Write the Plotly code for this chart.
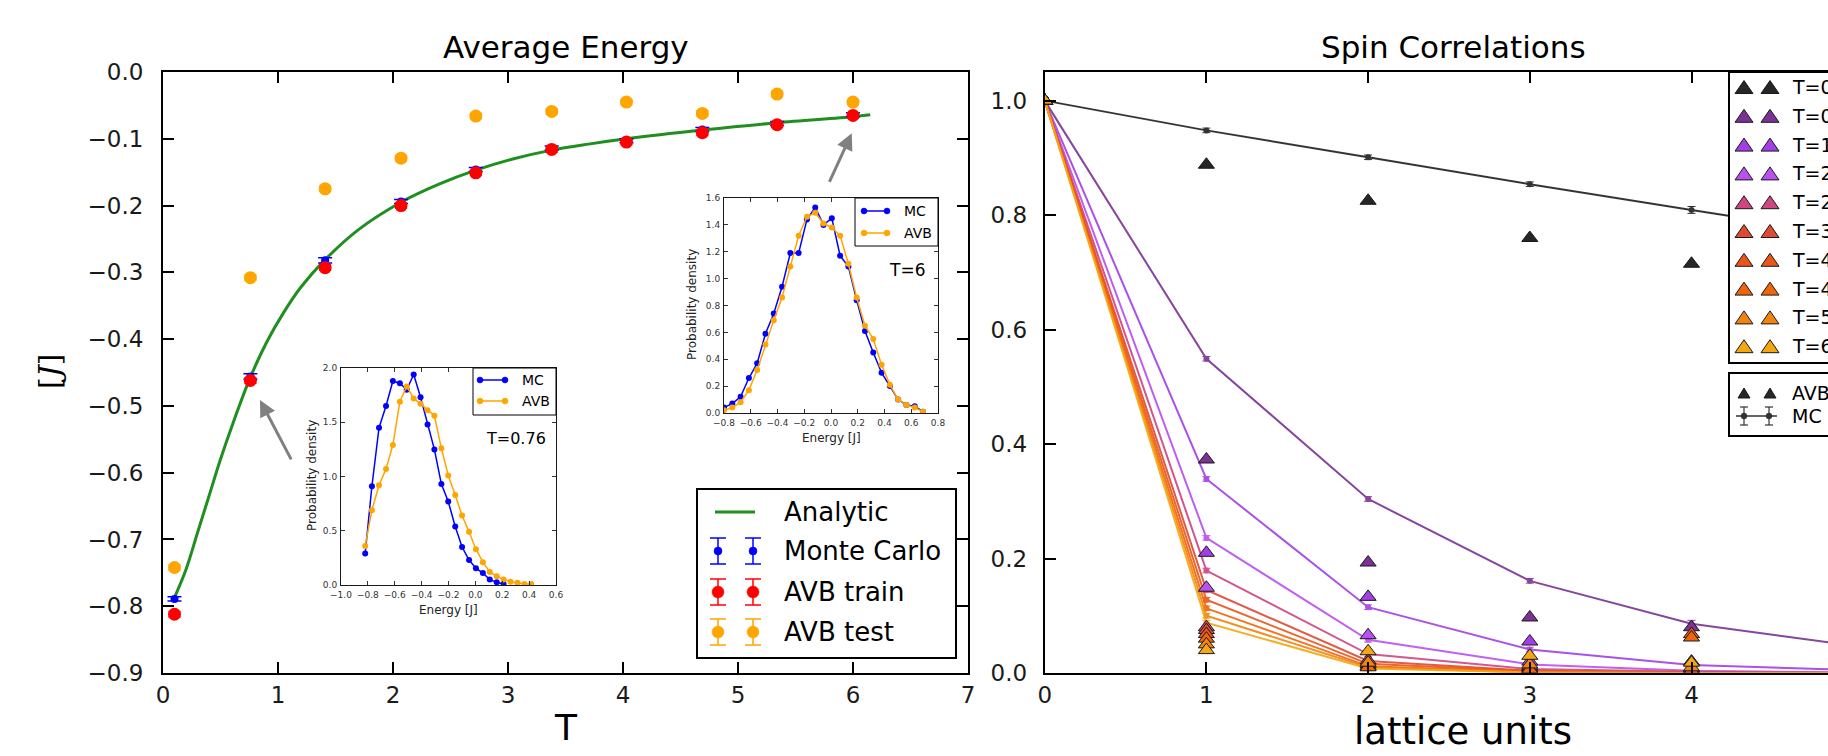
import plotly.graph_objects as go

FONT = "DejaVu Sans"
MINUS = "\u2212"

# ---------------- Average Energy panel ----------------
T_points = [0.10, 0.76, 1.41, 2.07, 2.72, 3.38, 4.03, 4.69, 5.34, 6.00]
E_monte_carlo = [-0.789, -0.456, -0.282, -0.194, -0.146, -0.114, -0.103, -0.086, -0.077, -0.064]
E_monte_carlo_err = [0.003, 0.004, 0.004, 0.003, 0.003, 0.003, 0.003, 0.003, 0.003, 0.003]
E_avb_train = [-0.812, -0.462, -0.293, -0.200, -0.151, -0.116, -0.105, -0.091, -0.079, -0.065]
E_avb_train_err = [0.004, 0.004, 0.004, 0.004, 0.004, 0.004, 0.004, 0.004, 0.004, 0.004]
E_avb_test = [-0.742, -0.308, -0.175, -0.129, -0.066, -0.059, -0.045, -0.062, -0.033, -0.045]
E_avb_test_err = [0.004, 0.004, 0.004, 0.004, 0.004, 0.004, 0.004, 0.004, 0.004, 0.004]

T_analytic = [0.10, 0.20, 0.30, 0.40, 0.50, 0.60, 0.76, 0.90, 1.05, 1.20, 1.41, 1.70,
              2.07, 2.40, 2.72, 3.05, 3.38, 3.70, 4.03, 4.69, 5.34, 6.00, 6.15]
E_analytic = [-0.787, -0.745, -0.690, -0.635, -0.580, -0.530, -0.457, -0.405, -0.360, -0.322,
              -0.281, -0.236, -0.195, -0.168, -0.147, -0.130, -0.117, -0.108, -0.100, -0.087,
              -0.076, -0.067, -0.064]

E_ticks = [0.0, -0.1, -0.2, -0.3, -0.4, -0.5, -0.6, -0.7, -0.8, -0.9]
T_ticks = [0, 1, 2, 3, 4, 5, 6, 7]

# inset T=0.76
inset1_energy = [-0.820, -0.770, -0.717, -0.665, -0.614, -0.562, -0.511, -0.459, -0.408, -0.356,
                 -0.305, -0.253, -0.202, -0.150, -0.099, -0.047, 0.004, 0.056, 0.107, 0.159,
                 0.210, 0.262, 0.313, 0.365, 0.416]
inset1_mc = [0.29, 0.91, 1.45, 1.65, 1.88, 1.86, 1.80, 1.94, 1.73, 1.48, 1.25, 0.93, 0.77, 0.54,
             0.35, 0.23, 0.155, 0.11, 0.05, 0.025, 0.01]
inset1_avb = [0.36, 0.69, 0.92, 1.07, 1.29, 1.69, 1.83, 1.72, 1.67, 1.61, 1.56, 1.26, 1.01, 0.83,
              0.64, 0.49, 0.33, 0.21, 0.12, 0.08, 0.05, 0.03, 0.02, 0.01, 0.01]
inset1_xticks = [-1.0, -0.8, -0.6, -0.4, -0.2, 0.0, 0.2, 0.4, 0.6]
inset1_yticks = [0.0, 0.5, 1.0, 1.5, 2.0]

# inset T=6
inset2_energy = [-0.800, -0.738, -0.676, -0.614, -0.552, -0.490, -0.428, -0.366, -0.304, -0.242,
                 -0.180, -0.118, -0.056, 0.006, 0.068, 0.130, 0.192, 0.254, 0.316, 0.378,
                 0.440, 0.502, 0.564, 0.626, 0.688]
inset2_mc = [0.04, 0.07, 0.12, 0.26, 0.37, 0.59, 0.74, 0.94, 1.19, 1.19, 1.44, 1.53, 1.40, 1.45,
             1.17, 1.09, 0.84, 0.61, 0.45, 0.30, 0.20, 0.10, 0.06, 0.05, 0.01]
inset2_avb = [0.02, 0.04, 0.08, 0.17, 0.32, 0.51, 0.69, 0.86, 1.09, 1.32, 1.46, 1.49, 1.41, 1.38,
              1.32, 1.11, 0.86, 0.65, 0.55, 0.36, 0.21, 0.10, 0.06, 0.04, 0.01]
inset2_xticks = [-0.8, -0.6, -0.4, -0.2, 0.0, 0.2, 0.4, 0.6, 0.8]
inset2_yticks = [0.0, 0.2, 0.4, 0.6, 0.8, 1.0, 1.2, 1.4, 1.6]

# ---------------- Spin Correlations panel ----------------
lattice_units = [0, 1, 2, 3, 4, 5]
lattice_ticks = [0, 1, 2, 3, 4]
corr_ticks = [0.0, 0.2, 0.4, 0.6, 0.8, 1.0]
temperature_labels = ["T=0.10", "T=0.76", "T=1.41", "T=2.07", "T=2.72",
                      "T=3.38", "T=4.03", "T=4.69", "T=5.34", "T=6.00"]
temperature_colors = ["#262626", "#7b3294", "#a23fe6", "#bb4ff0", "#cf4682",
                      "#de4a34", "#eb5519", "#ef650a", "#f2840e", "#f5a613"]

mc_T010 = [1.0, 0.948, 0.901, 0.854, 0.809, 0.765]
mc_T076 = [1.0, 0.549, 0.304, 0.161, 0.086, 0.048]
mc_T141 = [1.0, 0.339, 0.115, 0.041, 0.014, 0.005]
mc_T207 = [1.0, 0.236, 0.058, 0.015, 0.004, 0.001]
mc_T272 = [1.0, 0.179, 0.033, 0.007, 0.002, 0.000]
mc_T338 = [1.0, 0.145, 0.021, 0.004, 0.001, 0.000]
mc_T403 = [1.0, 0.128, 0.016, 0.003, 0.000, 0.000]
mc_T469 = [1.0, 0.113, 0.012, 0.002, 0.000, 0.000]
mc_T534 = [1.0, 0.100, 0.010, 0.001, 0.000, 0.000]
mc_T600 = [1.0, 0.088, 0.008, 0.001, 0.000, 0.000]
mc_err = [0.000, 0.004, 0.004, 0.004, 0.006, 0.006]

avb_T010 = [1.0, 0.888, 0.825, 0.760, 0.715, 0.670]
avb_T076 = [1.0, 0.373, 0.193, 0.097, 0.080, 0.060]
avb_T141 = [1.0, 0.210, 0.133, 0.055, 0.020, 0.010]
avb_T207 = [1.0, 0.149, 0.066, 0.020, 0.008, 0.005]
avb_T272 = [1.0, 0.080, 0.022, 0.010, 0.005, 0.003]
avb_T338 = [1.0, 0.075, 0.015, 0.008, 0.004, 0.002]
avb_T403 = [1.0, 0.068, 0.012, 0.012, 0.068, 0.010]
avb_T469 = [1.0, 0.060, 0.010, 0.006, 0.062, 0.010]
avb_T534 = [1.0, 0.050, 0.018, 0.015, 0.010, 0.005]
avb_T600 = [1.0, 0.040, 0.038, 0.030, 0.018, 0.005]

mc_series = [mc_T010, mc_T076, mc_T141, mc_T207, mc_T272, mc_T338, mc_T403, mc_T469, mc_T534, mc_T600]
avb_series = [avb_T010, avb_T076, avb_T141, avb_T207, avb_T272, avb_T338, avb_T403, avb_T469, avb_T534, avb_T600]


def fmt1(v):
    s = f"{abs(v):.1f}"
    return (MINUS + s) if v < 0 else s


# ---------------- layout geometry (pixels) ----------------
W, H = 1828, 756
PL, PR, PT, PB = 163, 0, 72, 83
PW = W - PL - PR
PH = H - PT - PB


def fx(px):
    return (px - PL) / PW


def fy(py):
    return (PT + PH - py) / PH


fig = go.Figure()

# ----- left panel traces -----
fig.add_trace(go.Scatter(x=T_analytic, y=E_analytic, mode="lines",
                         line=dict(color="#1f8f1f", width=3, shape="spline"),
                         xaxis="x", yaxis="y"))
fig.add_trace(go.Scatter(x=T_points, y=E_monte_carlo, mode="markers",
                         marker=dict(color="#0000ff", size=8),
                         error_y=dict(type="data", array=E_monte_carlo_err, color="#0000ff",
                                      thickness=1.5, width=7),
                         xaxis="x", yaxis="y"))
fig.add_trace(go.Scatter(x=T_points, y=E_avb_train, mode="markers",
                         marker=dict(color="#ff0000", size=13),
                         error_y=dict(type="data", array=E_avb_train_err, color="#ff0000",
                                      thickness=1.5, width=6),
                         xaxis="x", yaxis="y"))
fig.add_trace(go.Scatter(x=T_points, y=E_avb_test, mode="markers",
                         marker=dict(color="#ffa500", size=13),
                         error_y=dict(type="data", array=E_avb_test_err, color="#ffa500",
                                      thickness=1.5, width=6),
                         xaxis="x", yaxis="y"))

# ----- insets -----
fig.add_trace(go.Scatter(x=inset1_energy[:len(inset1_mc)], y=inset1_mc, mode="lines+markers",
                         line=dict(color="#0000ff", width=1.5), marker=dict(size=6, color="#0000ff"),
                         xaxis="x3", yaxis="y3"))
fig.add_trace(go.Scatter(x=inset1_energy[:len(inset1_avb)], y=inset1_avb, mode="lines+markers",
                         line=dict(color="#ffa500", width=1.5), marker=dict(size=6, color="#ffa500"),
                         xaxis="x3", yaxis="y3"))
fig.add_trace(go.Scatter(x=inset2_energy, y=inset2_mc, mode="lines+markers",
                         line=dict(color="#0000ff", width=1.5), marker=dict(size=6, color="#0000ff"),
                         xaxis="x4", yaxis="y4"))
fig.add_trace(go.Scatter(x=inset2_energy, y=inset2_avb, mode="lines+markers",
                         line=dict(color="#ffa500", width=1.5), marker=dict(size=6, color="#ffa500"),
                         xaxis="x4", yaxis="y4"))

# ----- right panel traces -----
for vals, col in zip(mc_series, temperature_colors):
    fig.add_trace(go.Scatter(x=lattice_units, y=vals, mode="lines+markers",
                             line=dict(color=col, width=2), opacity=0.9,
                             marker=dict(size=6, color=col),
                             error_y=dict(type="data", array=mc_err, color=col, thickness=1, width=4),
                             xaxis="x2", yaxis="y2"))
for vals, col in zip(avb_series, temperature_colors):
    fig.add_trace(go.Scatter(x=lattice_units, y=vals, mode="markers",
                             marker=dict(symbol="triangle-up", size=14, color=col,
                                         line=dict(color="#1a1a1a", width=1)),
                             xaxis="x2", yaxis="y2"))

# ----- axes -----
main_ax = dict(showline=True, linecolor="black", linewidth=2, mirror="ticks", ticks="inside",
               ticklen=11, tickwidth=1.5, tickcolor="black", showgrid=False, zeroline=False,
               tickfont=dict(family=FONT, size=23, color="#1a1a1a"))
inset_ax = dict(showline=True, linecolor="#1a1a1a", linewidth=1, mirror="ticks", ticks="inside",
                ticklen=4, tickwidth=1, tickcolor="#333", showgrid=False, zeroline=False,
                tickfont=dict(family=FONT, size=9, color="#333"), ticklabelstandoff=1)

fig.update_layout(
    xaxis=dict(main_ax, domain=[0, fx(968)], range=[0, 7], tickvals=T_ticks,
               anchor="y", ticklabelstandoff=0),
    yaxis=dict(main_ax, domain=[0, 1], range=[-0.9, 0], tickvals=E_ticks,
               ticktext=[fmt1(v) for v in E_ticks], anchor="x", ticklabelstandoff=13),
    xaxis2=dict(main_ax, domain=[fx(1044.7), 1], range=[0, (W - 1044.7) / 161.7],
                tickvals=lattice_ticks, anchor="y2", ticklabelstandoff=0),
    yaxis2=dict(main_ax, domain=[0, 1], range=[0, 1.05], tickvals=corr_ticks,
                ticktext=[fmt1(v) for v in corr_ticks], anchor="x2", mirror=False,
                ticklabelstandoff=11),
    xaxis3=dict(inset_ax, domain=[fx(341), fx(556)], range=[-1.0, 0.6],
                tickvals=inset1_xticks, ticktext=[fmt1(v) for v in inset1_xticks], anchor="y3"),
    yaxis3=dict(inset_ax, domain=[fy(585), fy(368)], range=[0, 2.0],
                tickvals=inset1_yticks, ticktext=[fmt1(v) for v in inset1_yticks], anchor="x3"),
    xaxis4=dict(inset_ax, domain=[fx(724), fx(938)], range=[-0.8, 0.8],
                tickvals=inset2_xticks, ticktext=[fmt1(v) for v in inset2_xticks], anchor="y4"),
    yaxis4=dict(inset_ax, domain=[fy(413), fy(198)], range=[0, 1.6],
                tickvals=inset2_yticks, ticktext=[fmt1(v) for v in inset2_yticks], anchor="x4"),
)

# ----- decorations: legends, titles, arrows -----
shapes = []
annotations = []


def add_rect(x0, y0, x1, y1, lw=1.5, fill="white"):
    shapes.append(dict(type="rect", xref="paper", yref="paper", x0=fx(x0), x1=fx(x1),
                       y0=fy(y1), y1=fy(y0), line=dict(color="black", width=lw),
                       fillcolor=fill, layer="above"))


def add_seg(x0, y0, x1, y1, color, lw):
    shapes.append(dict(type="line", xref="paper", yref="paper", x0=fx(x0), y0=fy(y0),
                       x1=fx(x1), y1=fy(y1), line=dict(color=color, width=lw), layer="above"))


def add_dot(cx, cy, r, color):
    shapes.append(dict(type="circle", xref="paper", yref="paper", x0=fx(cx - r), x1=fx(cx + r),
                       y0=fy(cy + r), y1=fy(cy - r), line=dict(color=color, width=0.5),
                       fillcolor=color, layer="above"))


def add_tri(cx, cy, hw, h, color, edge="#1a1a1a"):
    path = (f"M{fx(cx - hw)},{fy(cy + h / 2)} L{fx(cx + hw)},{fy(cy + h / 2)} "
            f"L{fx(cx)},{fy(cy - h / 2)} Z")
    shapes.append(dict(type="path", xref="paper", yref="paper", path=path, fillcolor=color,
                       line=dict(color=edge, width=1), layer="above"))


def add_errglyph(cx, cy, half_h, cap, color, r, lw=1.5):
    add_seg(cx, cy - half_h, cx, cy + half_h, color, lw)
    add_seg(cx - cap, cy - half_h, cx + cap, cy - half_h, color, lw)
    add_seg(cx - cap, cy + half_h, cx + cap, cy + half_h, color, lw)
    if r:
        add_dot(cx, cy, r, color)


def add_text(px, py, text, size, xanchor="left", color="black", angle=0, family=FONT):
    annotations.append(dict(xref="paper", yref="paper", x=fx(px), y=fy(py), text=text,
                            showarrow=False, xanchor=xanchor, yanchor="middle", textangle=angle,
                            font=dict(family=family, size=size, color=color)))


# left main legend
add_rect(697, 489, 956, 658, lw=2)
add_seg(715, 512, 755, 512, "#1f8f1f", 3)
add_text(782, 512, "Analytic", 26)
for gx in (718, 753):
    add_errglyph(gx, 551, 13, 8, "#0000ff", 4)
    add_errglyph(gx, 592, 13, 8, "#ff0000", 6)
    add_errglyph(gx, 632, 13, 8, "#ffa500", 6)
add_text(782, 551, "Monte Carlo", 26)
add_text(782, 592, "AVB train", 26)
add_text(782, 632, "AVB test", 26)

# inset 1 legend & labels
add_rect(473, 368, 556, 415, lw=1)
add_seg(480, 380, 505, 380, "#0000ff", 1.5)
add_dot(480, 380, 3, "#0000ff")
add_dot(505, 380, 3, "#0000ff")
add_seg(480, 401, 505, 401, "#ffa500", 1.5)
add_dot(480, 401, 3, "#ffa500")
add_dot(505, 401, 3, "#ffa500")
add_text(520, 380, "MC", 14)
add_text(520, 401, "AVB", 14)
add_text(548, 438, "T=0.76", 16, xanchor="right")
add_text(448, 610, "Energy [J]", 12, xanchor="center", color="#222")
add_text(312, 476, "Probability density", 12, xanchor="center", color="#222", angle=-90)

# inset 2 legend & labels
add_rect(855, 198, 938, 246, lw=1)
add_seg(864, 211, 887, 211, "#0000ff", 1.5)
add_dot(864, 211, 3, "#0000ff")
add_dot(887, 211, 3, "#0000ff")
add_seg(864, 233, 887, 233, "#ffa500", 1.5)
add_dot(864, 233, 3, "#ffa500")
add_dot(887, 233, 3, "#ffa500")
add_text(902, 211, "MC", 14)
add_text(902, 233, "AVB", 14)
add_text(887, 270, "T=6", 17)
add_text(831, 438, "Energy [J]", 12, xanchor="center", color="#222")
add_text(692, 305, "Probability density", 12, xanchor="center", color="#222", angle=-90)

# right legends (cut by the picture edge, as in the original)
add_rect(1729, 72, 1900, 363, lw=2)
for i, (lab, col) in enumerate(zip(temperature_labels, temperature_colors)):
    ry = 87 + 28.8 * i
    add_tri(1744, ry, 9, 13, col)
    add_tri(1770, ry, 9, 13, col)
    add_text(1790, ry, lab, 19)
add_rect(1729, 373, 1900, 436, lw=2)
add_tri(1744, 393, 6, 10, "#262626")
add_tri(1770, 393, 6, 10, "#262626")
add_text(1790, 393, "AVB", 19)
add_seg(1736, 416, 1777, 416, "#333", 1.5)
add_errglyph(1744, 416, 9, 4, "#333", 3, lw=1.2)
add_errglyph(1769, 416, 9, 4, "#333", 3, lw=1.2)
add_text(1790, 416, "MC", 19)

# titles and axis labels
add_text(565.5, 47, "Average Energy", 31, xanchor="center")
add_text(1453, 47, "Spin Correlations", 31, xanchor="center")
add_text(566, 727, "T", 36, xanchor="center")
add_text(1463, 731, "lattice units", 37, xanchor="center")
add_text(49, 372, "[<i>J</i>]", 30, xanchor="center", angle=-90, family="DejaVu Serif")

# arrows from insets to points
annotations.append(dict(xref="x", yref="y", x=0.843, y=-0.491, ax=32, ay=61, text="",
                        showarrow=True, arrowhead=2, arrowsize=1.1, arrowwidth=3,
                        arrowcolor="#808080", standoff=0))
annotations.append(dict(xref="x", yref="y", x=5.989, y=-0.0918, ax=-23, ay=50, text="",
                        showarrow=True, arrowhead=2, arrowsize=1.1, arrowwidth=3,
                        arrowcolor="#808080", standoff=0))

fig.update_layout(
    width=W, height=H,
    margin=dict(l=PL, r=PR, t=PT, b=PB, autoexpand=False),
    paper_bgcolor="white", plot_bgcolor="white",
    showlegend=False,
    font=dict(family=FONT, color="black"),
    shapes=shapes, annotations=annotations,
)

fig.write_html("out.html", config={"displayModeBar": False},
               post_script="document.body.style.margin='0';document.body.style.overflow='hidden';")
